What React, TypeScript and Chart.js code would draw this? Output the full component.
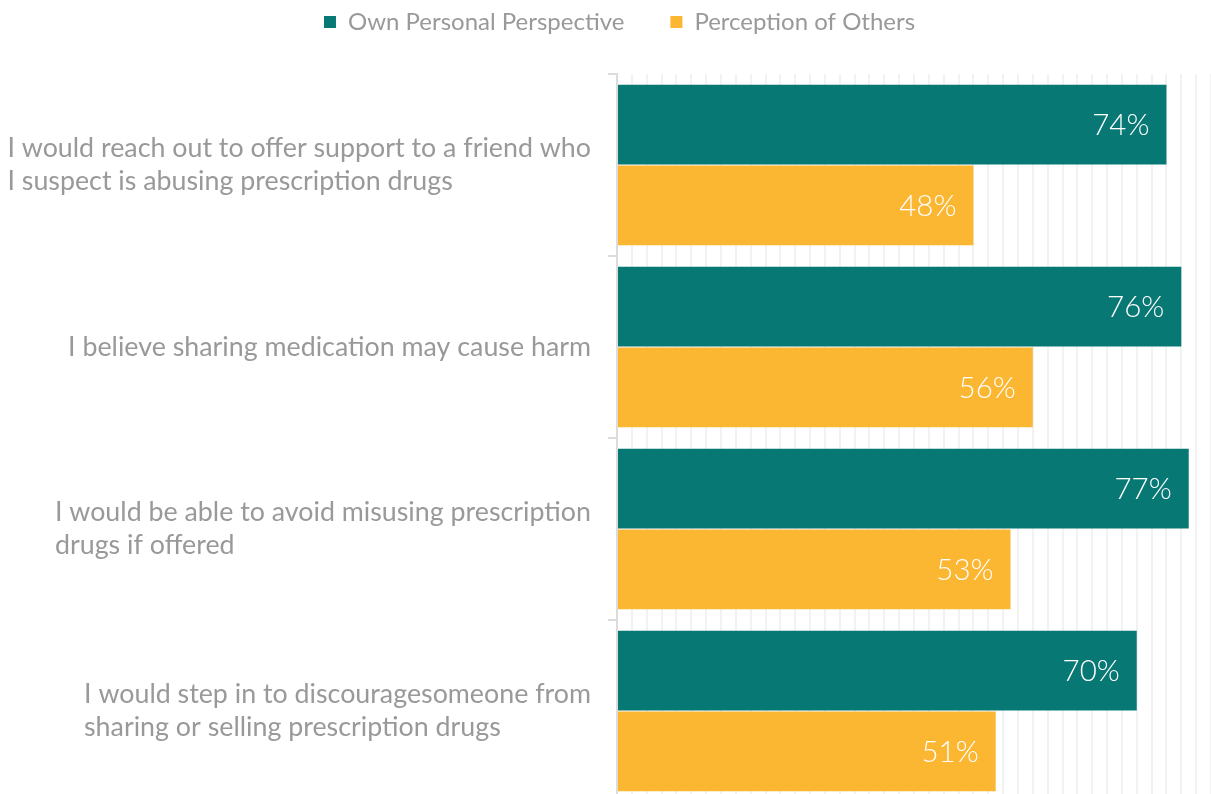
import React, { useEffect, useRef } from "react";
import { Chart, registerables } from "chart.js";

Chart.register(...registerables);

const categories: string[][] = [
  ["I would reach out to offer support to a friend who", "I suspect is abusing prescription drugs"],
  ["I believe sharing medication may cause harm"],
  ["I would be able to avoid misusing prescription", "drugs if offered"],
  ["I would step in to discouragesomeone from", "sharing or selling prescription drugs"],
];
const seriesNames = ["Own Personal Perspective", "Perception of Others"];
const ownValues = [74, 76, 77, 70];
const othersValues = [48, 56, 53, 51];
const xMin = 0;
const xMax = 80;
const xStep = 2;

const TEAL = "#077874";
const YELLOW = "#FBB632";
const GRAY = "#999999";
const FONT = "Lato, 'Open Sans', sans-serif";

export default function App() {
  const ref = useRef<HTMLCanvasElement | null>(null);

  useEffect(() => {
    const canvas = ref.current;
    if (!canvas) return;

    const legendTweak = {
      id: "legendTweak",
      beforeInit(chart: any) {
        const legend = chart.legend;
        if (!legend) return;
        const origFit = legend.fit;
        legend.fit = function () {
          origFit.call(this);
          this.height = 74;
        };
        const origDraw = legend.draw;
        legend.draw = function () {
          const ctx = chart.ctx;
          ctx.save();
          ctx.translate(14, -36);
          origDraw.call(this);
          ctx.restore();
        };
      },
    };

    const yLabels = {
      id: "yLabels",
      afterDraw(chart: any) {
        const ctx = chart.ctx;
        const y = chart.scales.y;
        const rightEdge = chart.chartArea.left - 26;
        const lineH = 33;
        ctx.save();
        ctx.font = `400 26.8px ${FONT}`;
        ctx.fillStyle = GRAY;
        ctx.textAlign = "left";
        ctx.textBaseline = "middle";
        categories.forEach((lines, i) => {
          const cy = y.getPixelForValue(i);
          const maxW = Math.max(...lines.map((l) => ctx.measureText(l).width));
          const x0 = rightEdge - maxW;
          const startY = cy - ((lines.length - 1) * lineH) / 2;
          lines.forEach((l, j) => ctx.fillText(l, x0, startY + j * lineH));
        });
        ctx.restore();
      },
    };

    const barLabels = {
      id: "barLabels",
      afterDatasetsDraw(chart: any) {
        const ctx = chart.ctx;
        ctx.save();
        ctx.font = `300 29.5px ${FONT}`;
        ctx.fillStyle = "#ffffff";
        ctx.textAlign = "right";
        ctx.textBaseline = "middle";
        chart.data.datasets.forEach((ds: any, di: number) => {
          const meta = chart.getDatasetMeta(di);
          meta.data.forEach((bar: any, i: number) => {
            ctx.fillText(`${ds.data[i]}%`, bar.x - 17, bar.y + 1);
          });
        });
        ctx.restore();
      },
    };

    const chart = new Chart(canvas, {
      type: "bar",
      data: {
        labels: categories,
        datasets: [
          {
            label: seriesNames[0],
            data: ownValues,
            backgroundColor: TEAL,
            categoryPercentage: 0.885,
            barPercentage: 0.99,
          },
          {
            label: seriesNames[1],
            data: othersValues,
            backgroundColor: YELLOW,
            categoryPercentage: 0.885,
            barPercentage: 0.99,
          },
        ],
      },
      options: {
        indexAxis: "y",
        responsive: false,
        animation: false,
        layout: { padding: 0 },
        plugins: {
          legend: {
            display: true,
            position: "top",
            align: "center",
            labels: {
              boxWidth: 12,
              boxHeight: 12,
              padding: 46,
              color: GRAY,
              font: { family: FONT, size: 24 },
            },
          },
          tooltip: { enabled: false },
        },
        scales: {
          x: {
            type: "linear",
            min: xMin,
            max: xMax,
            position: "bottom",
            ticks: { display: false, stepSize: xStep },
            grid: { color: "#f2f2f2", lineWidth: 2, drawTicks: false },
            border: { display: false },
          },
          y: {
            type: "category",
            ticks: { display: false },
            grid: {
              offset: true,
              drawOnChartArea: false,
              drawTicks: true,
              tickLength: 9,
              color: "#dcdcdc",
              lineWidth: 2,
            },
            border: { display: true, color: "#dcdcdc", width: 2 },
            afterFit(scale: any) {
              scale.width = 617;
            },
          },
        },
      },
      plugins: [legendTweak, yLabels, barLabels],
    });

    return () => chart.destroy();
  }, []);

  return (
    <div style={{ position: "fixed", top: 0, left: 0, width: 1211, height: 794, overflow: "hidden", background: "#fff" }}>
      <canvas ref={ref} width={1211} height={802} style={{ display: "block", width: "1211px", height: "802px" }} />
    </div>
  );
}
